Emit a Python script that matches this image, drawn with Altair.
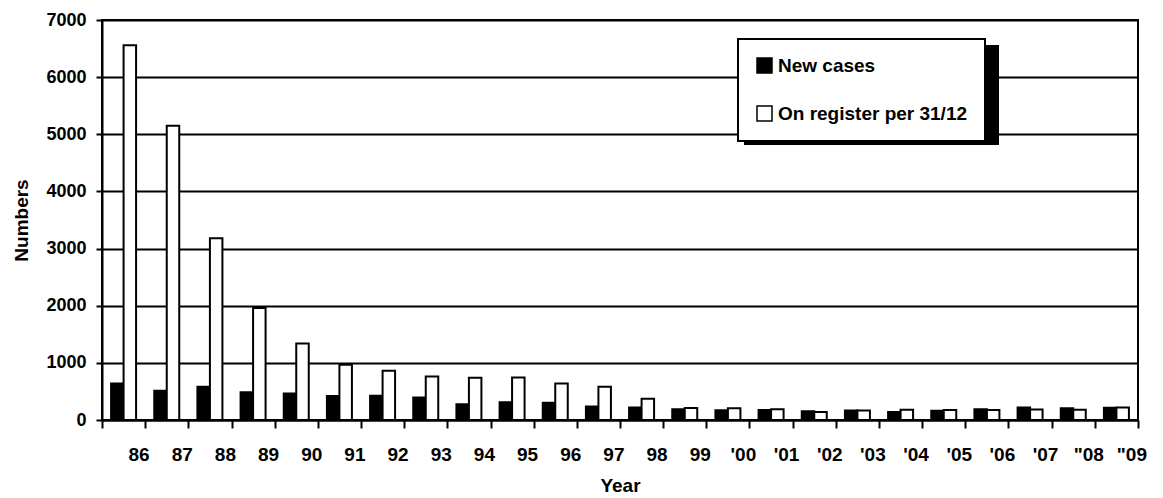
import altair as alt
import pandas as pd

years = ["86", "87", "88", "89", "90", "91", "92", "93", "94", "95", "96", "97",
         "98", "99", "'00", "'01", "'02", "'03", "'04", "'05", "'06", "'07", '"08', '"09']
new_cases = [640, 510, 580, 485, 465, 420, 425, 395, 275, 310, 300, 235,
             220, 190, 170, 175, 155, 165, 140, 160, 190, 220, 205, 215]
on_register = [6560, 5150, 3180, 1960, 1340, 965, 860, 760, 740, 745, 640, 580,
               370, 210, 205, 190, 140, 165, 180, 175, 175, 185, 180, 220]
series = ["New cases", "On register per 31/12"]

rows = []
for i, y in enumerate(years):
    rows.append({"Year": y, "Series": series[0], "Value": new_cases[i]})
    rows.append({"Year": y, "Series": series[1], "Value": on_register[i]})
df = pd.DataFrame(rows)

FONT = "Liberation Sans"

bars = alt.Chart(df).mark_bar(stroke="black", strokeWidth=2).encode(
    x=alt.X("Year:N", sort=years,
            scale=alt.Scale(paddingInner=0, paddingOuter=0),
            axis=alt.Axis(title="Year", labelAngle=0, tickBand="extent",
                          labelOffset=15, labelPadding=17, tickSize=8,
                          tickWidth=2, tickColor="black", domainColor="black",
                          domainWidth=2, labelFontSize=19, labelFont=FONT,
                          labelFontWeight="bold", labelColor="black",
                          titleFontSize=19, titleFont=FONT, titleFontWeight="bold",
                          titleColor="black", titlePadding=12, grid=False)),
    xOffset=alt.XOffset("Series:N", sort=series,
                        scale=alt.Scale(paddingInner=0, paddingOuter=0.727)),
    y=alt.Y("Value:Q",
            scale=alt.Scale(domain=[0, 7000], nice=False),
            axis=alt.Axis(title="Numbers", values=list(range(0, 7001, 1000)),
                          format="d",
                          tickSize=6, tickWidth=2, tickColor="black",
                          domainColor="black", domainWidth=2,
                          gridColor="black", gridWidth=2, grid=True,
                          labelFontSize=18, labelFont=FONT, labelFontWeight="bold",
                          labelColor="black", labelPadding=10,
                          titleFontSize=19, titleFont=FONT, titleFontWeight="bold",
                          titleColor="black", titlePadding=14)),
    color=alt.Color("Series:N", sort=series,
                    scale=alt.Scale(domain=series, range=["black", "white"]),
                    legend=alt.Legend(title=None, orient="none", legendX=636, legendY=19,
                                      fillColor="white", strokeColor="black",
                                      padding=17, symbolType="square", symbolSize=225,
                                      symbolStrokeColor="black", symbolStrokeWidth=1.5,
                                      labelFontSize=19, labelFont=FONT,
                                      labelFontWeight="bold", labelColor="black",
                                      labelLimit=400,
                                      rowPadding=27, labelOffset=4)),
)

shadow = alt.Chart(alt.Data(values=[{}])).mark_rect(color="black").encode(
    x=alt.value(642), x2=alt.value(897), y=alt.value(25), y2=alt.value(125)
)

chart = alt.layer(shadow, bars).properties(
    width=1036, height=400,
    autosize=alt.AutoSizeParams(type="none"),
    padding={"left": 102, "top": 20, "right": 25, "bottom": 78},
).configure_view(stroke="black", strokeWidth=2).configure_legend(
    strokeWidth=2
)

chart.save("out.html", embed_options={"renderer": "svg", "actions": False})
